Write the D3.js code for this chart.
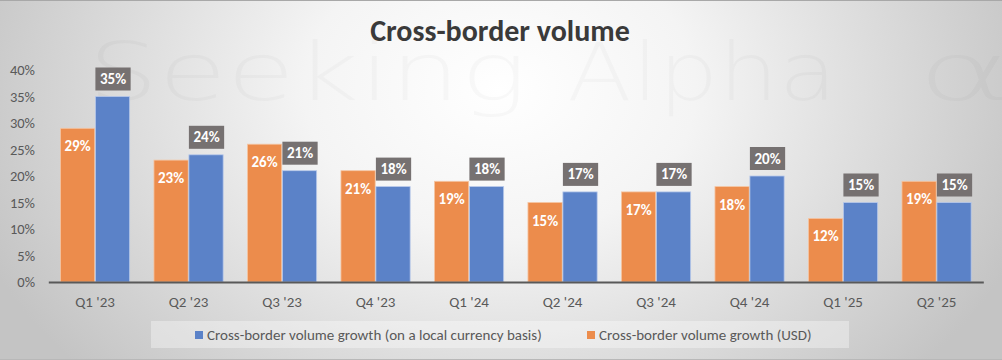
<!DOCTYPE html>
<html><head><meta charset="utf-8">
<script src="https://cdn.jsdelivr.net/npm/d3@7"></script>
<style>html,body{margin:0;padding:0;background:#fff;}svg{display:block;}</style>
</head><body><svg id="c" width="1002" height="360"></svg>
<script>
const categories = ["Q1 '23","Q2 '23","Q3 '23","Q4 '23","Q1 '24","Q2 '24","Q3 '24","Q4 '24","Q1 '25","Q2 '25"];
const usdGrowth = [29,23,26,21,19,15,17,18,12,19];
const localGrowth = [35,24,21,18,18,17,17,20,15,15];
const yTicks = [0,5,10,15,20,25,30,35,40];
const seriesNames = ["Cross-border volume growth (on a local currency basis)","Cross-border volume growth (USD)"];
const title = "Cross-border volume";
const watermark = ["Seeking","Alpha","\u03B1"];

const W = 1002, H = 360;
const svg = d3.select("#c");
const font = "Carlito, Lato, 'Open Sans', sans-serif";

const defs = svg.append("defs");
const rg = defs.append("radialGradient").attr("id","bg").attr("gradientUnits","userSpaceOnUse")
  .attr("cx",500).attr("cy",90).attr("r",560).attr("gradientTransform","translate(500,90) scale(1,0.75) translate(-500,-90)");
rg.append("stop").attr("offset","0").attr("stop-color","#ffffff");
rg.append("stop").attr("offset","0.35").attr("stop-color","#f4f4f4");
rg.append("stop").attr("offset","1").attr("stop-color","#c4c4c4");
svg.append("rect").attr("width",W).attr("height",H).attr("fill","url(#bg)");
svg.append("line").attr("x1",0).attr("x2",W).attr("y1",0.5).attr("y2",0.5).attr("stroke","#a8a8a8");
svg.append("line").attr("x1",0).attr("x2",W).attr("y1",359.5).attr("y2",359.5).attr("stroke","#b8b8b8");

// watermark
const wmPos = [[88,439],[567,270],[917,95]];
watermark.forEach((t,i)=>{
  svg.append("text").attr("x",wmPos[i][0]).attr("y",100).attr("font-family","'DejaVu Sans', sans-serif")
    .attr("font-weight",300).attr("font-size",80).attr("fill","#000").attr("fill-opacity",0.022)
    .attr("textLength",wmPos[i][1]).attr("lengthAdjust","spacingAndGlyphs").text(t);
});

svg.append("text").attr("x",500).attr("y",41).attr("text-anchor","middle")
  .attr("font-family",font).attr("font-weight","bold").attr("font-size",30).attr("fill","#3a3a3a").text(title);

const x0 = d3.scaleBand().domain(categories).range([48.3,983.3]).paddingInner(0.26).paddingOuter(0.13);
const x1 = d3.scaleBand().domain(["usd","local"]).range([0,x0.bandwidth()]).paddingInner(0.02);
const y = d3.scaleLinear().domain([0,40]).range([282,70]);

const ya = svg.append("g").attr("transform","translate(35,0)")
  .call(d3.axisLeft(y).tickValues(yTicks).tickSize(0).tickPadding(0).tickFormat(d=>d+"%"));
ya.select(".domain").remove();
ya.selectAll("text").attr("font-family",font).attr("font-size",14.5).attr("fill","#595959");

const colors = {usd:"#ec8c4c", local:"#5b82c8"};
const g = svg.append("g");
categories.forEach((c,i)=>{
  const vals = [["usd",usdGrowth[i]],["local",localGrowth[i]]];
  vals.forEach(([k,v])=>{
    g.append("rect").attr("x",x0(c)+x1(k)).attr("y",y(v)).attr("width",x1.bandwidth()).attr("height",y(0)-y(v))
      .attr("fill",colors[k]).attr("stroke",k==="usd"?"#f5c6a4":"#b8c9ea").attr("stroke-width",0.8);
  });
  const ox = x0(c)+x1("usd")+x1.bandwidth()/2;
  g.append("text").attr("x",ox).attr("y",y(usdGrowth[i])+23).attr("text-anchor","middle")
    .attr("font-family",font).attr("font-weight","bold").attr("font-size",15).attr("fill","#fff").text(usdGrowth[i]+"%");
  const bx = x0(c)+x1("local");
  const by = y(localGrowth[i]) - 6;
  g.append("rect").attr("x",bx).attr("y",by-23).attr("width",x1.bandwidth()+1).attr("height",23).attr("fill","#767171");
  g.append("text").attr("x",bx+x1.bandwidth()/2+0.5).attr("y",by-6.5).attr("text-anchor","middle")
    .attr("font-family",font).attr("font-weight","bold").attr("font-size",15).attr("fill","#fff").text(localGrowth[i]+"%");
});

const xa = svg.append("g").attr("transform","translate(0,282)")
  .call(d3.axisBottom(x0).tickSize(0).tickPadding(14));
xa.select(".domain").attr("stroke","#595959").attr("stroke-width",2);
xa.selectAll("text").attr("font-family",font).attr("font-size",15).attr("fill","#595959");

const lg = svg.append("g");
lg.append("rect").attr("x",151).attr("y",321).attr("width",698).attr("height",27).attr("fill","#ffffff").attr("fill-opacity",0.35);
const legItems = [{name:seriesNames[0],color:colors.local,x:195},{name:seriesNames[1],color:colors.usd,x:587}];
legItems.forEach(it=>{
  lg.append("rect").attr("x",it.x).attr("y",331).attr("width",8).attr("height",8).attr("fill",it.color);
  lg.append("text").attr("x",it.x+12).attr("y",340).attr("font-family",font).attr("font-size",15).attr("fill","#595959").text(it.name);
});
</script></body></html>
